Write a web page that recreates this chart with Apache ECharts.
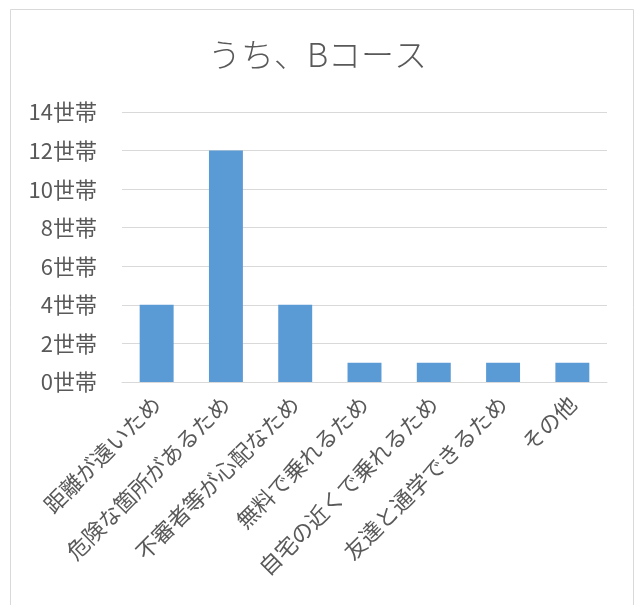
<!DOCTYPE html>
<html>
<head>
<meta charset="utf-8">
<script src="https://cdn.jsdelivr.net/npm/echarts@6/dist/echarts.min.js"></script>
<style>
  html, body { margin: 0; padding: 0; background: #fff; }
  #chart { width: 635px; height: 605px; }
</style>
</head>
<body>
<div id="chart"></div>
<script>
// 理由別の世帯数（Bコース）
const titleText = 'うち、Bコース';
const categories = [
  '距離が遠いため',
  '危険な箇所があるため',
  '不審者等が心配なため',
  '無料で乗れるため',
  '自宅の近くで乗れるため',
  '友達と通学できるため',
  'その他'
];
const households = [4, 12, 4, 1, 1, 1, 1];
const unitSuffix = '世帯';

const FONT = '"Noto Sans CJK JP", "Noto Sans", sans-serif';
const TEXT_COLOR = '#595959';

const chart = echarts.init(document.getElementById('chart'), null, { renderer: 'canvas' });
chart.setOption({
  backgroundColor: '#fff',
  animation: false,
  title: {
    text: titleText,
    left: 'center',
    top: 33,
    textStyle: { fontFamily: FONT, fontSize: 33, fontWeight: 300, color: TEXT_COLOR }
  },
  graphic: [{
    type: 'polyline',
    shape: { points: [[10.5, 605], [10.5, 9.5], [633.5, 9.5], [633.5, 605]] },
    style: { stroke: '#d9d9d9', lineWidth: 1, fill: null },
    silent: true
  }],
  grid: { left: 122, right: 28, top: 112, bottom: 223, containLabel: false },
  xAxis: {
    type: 'category',
    data: categories,
    axisTick: { show: false },
    axisLine: { show: true, lineStyle: { color: '#d9d9d9', width: 1 } },
    axisLabel: {
      interval: 0,
      rotate: 45,
      margin: 18,
      fontFamily: FONT,
      fontSize: 22,
      color: TEXT_COLOR
    }
  },
  yAxis: {
    type: 'value',
    min: 0,
    max: 14,
    interval: 2,
    axisLine: { show: false },
    axisTick: { show: false },
    splitLine: { lineStyle: { color: '#d9d9d9', width: 1 } },
    axisLabel: {
      margin: 25,
      fontFamily: FONT,
      fontSize: 22,
      color: TEXT_COLOR,
      formatter: v => v + unitSuffix
    }
  },
  series: [{
    type: 'bar',
    data: households,
    barWidth: '49%',
    itemStyle: { color: '#5b9bd5' }
  }]
});
</script>
</body>
</html>
